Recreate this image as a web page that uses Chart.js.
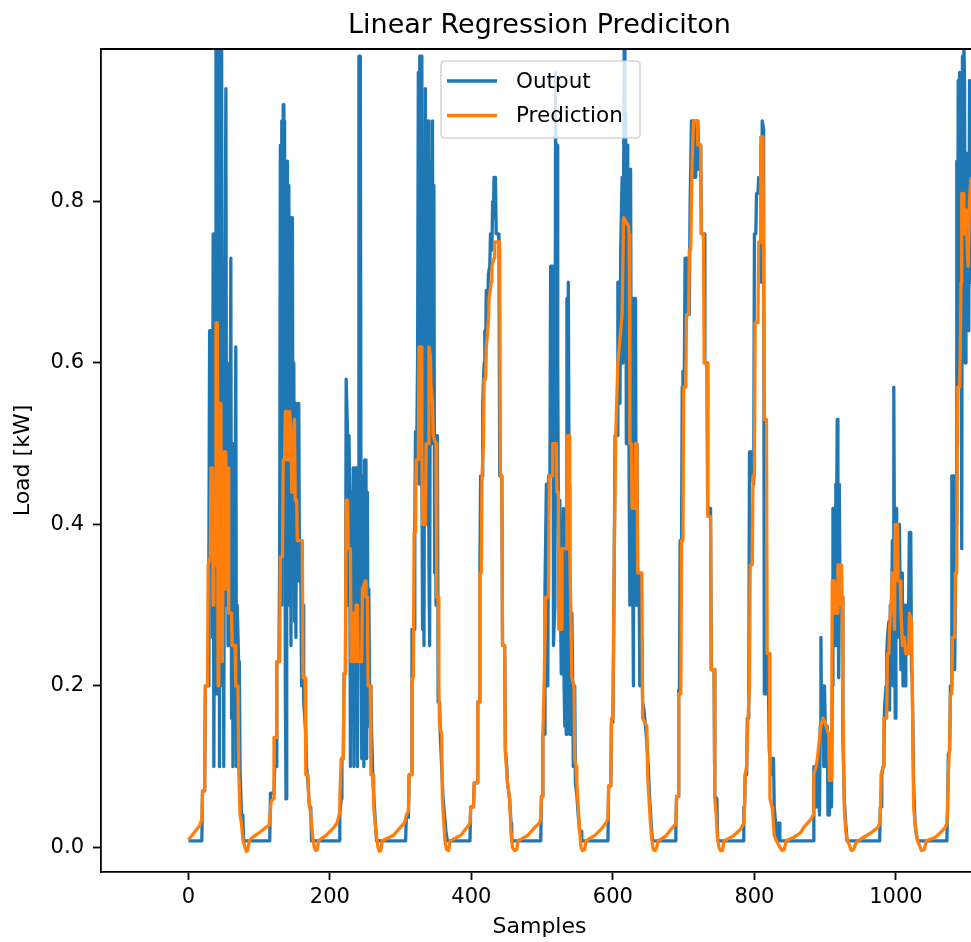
<!DOCTYPE html>
<html>
<head>
<meta charset="utf-8">
<title>Linear Regression Prediciton</title>
<script src="https://cdn.jsdelivr.net/npm/chart.js@4.4.1/dist/chart.umd.min.js"></script>
<style>
  html, body { margin: 0; padding: 0; background: #fff; overflow: hidden; }
  #wrap { width: 971px; height: 942px; overflow: hidden; }
</style>
</head>
<body>
<div id="wrap"><canvas id="loadChart" width="1080" height="942"></canvas></div>
<script>
// Measured load vs. regression prediction, one row per [sample, kW]
const outputSeries = [
  // day 0
  [0,0.008],[19,0.008],[20,0.07],[23,0.07],[24,0.2],[28,0.2],[29,0.36],[30,0.64],[33,0.64],[34,0.26],[35,0.76],[36,0.1],[38,0.76],[39,1.0],[40,0.19],[41,0.95],[42,0.35],[43,1.0],[44,0.1],[45,0.85],[46,0.4],[47,1.0],[48,0.2],[49,0.7],[50,0.1],[51,0.5],[53,0.94],[54,0.3],[55,0.6],[56,0.25],[57,0.45],[58,0.26],[60,0.73],[61,0.16],[62,0.5],[63,0.1],[64,0.35],[65,0.2],[67,0.62],[68,0.1],[69,0.3],[71,0.23],[72,0.23],[73,0.1],[75,0.04],[77,0.04],[78,0.008],
  // day 1
  [115,0.008],[116,0.067],[121,0.067],[122,0.1],[124,0.1],[125,0.23],[128,0.23],[129,0.36],[130,0.87],[131,0.3],[132,0.9],[133,0.5],[134,0.92],[135,0.4],[136,0.9],[137,0.2],[138,0.06],[139,0.7],[140,0.85],[141,0.3],[142,0.82],[143,0.45],[144,0.78],[145,0.25],[146,0.7],[147,0.78],[148,0.35],[149,0.6],[150,0.28],[151,0.55],[152,0.26],[153,0.55],[154,0.33],[156,0.55],[157,0.33],[159,0.33],[160,0.2],[162,0.3],[163,0.18],[166,0.14],[167,0.1],[169,0.08],[171,0.05],[173,0.05],[174,0.008],
  // day 2
  [213,0.008],[214,0.04],[216,0.06],[217,0.11],[219,0.11],[220,0.215],[222,0.215],[223,0.58],[224,0.58],[225,0.51],[226,0.3],[227,0.51],[228,0.44],[229,0.1],[230,0.44],[231,0.3],[232,0.18],[233,0.47],[234,0.1],[235,0.47],[236,0.2],[237,0.47],[238,0.3],[239,0.1],[240,0.3],[241,0.98],[243,0.98],[244,0.4],[245,0.11],[246,0.3],[247,0.46],[248,0.1],[249,0.48],[250,0.2],[251,0.48],[252,0.11],[253,0.44],[254,0.15],[255,0.32],[256,0.2],[258,0.2],[259,0.14],[261,0.08],[263,0.05],[265,0.02],[266,0.008],
  // day 3
  [307,0.008],[308,0.037],[311,0.037],[312,0.09],[315,0.09],[316,0.27],[319,0.27],[320,0.39],[321,0.515],[323,0.515],[324,0.61],[325,0.96],[326,0.45],[327,0.98],[328,0.6],[329,0.98],[330,0.47],[331,0.27],[332,0.55],[333,0.25],[334,0.7],[335,0.94],[336,0.4],[337,0.62],[338,0.5],[339,0.9],[340,0.35],[341,0.25],[342,0.7],[343,0.85],[344,0.5],[345,0.9],[346,0.5],[347,0.82],[348,0.34],[349,0.51],[350,0.3],[351,0.51],[352,0.51],[353,0.18],[355,0.18],[356,0.14],[358,0.1],[360,0.06],[362,0.04],[364,0.02],[366,0.008],
  // day 4
  [398,0.008],[399,0.05],[403,0.05],[404,0.08],[408,0.08],[409,0.18],[411,0.18],[412,0.34],[413,0.46],[415,0.46],[416,0.55],[418,0.6],[419,0.64],[420,0.6],[421,0.69],[423,0.66],[424,0.71],[426,0.72],[427,0.76],[429,0.74],[430,0.8],[431,0.78],[432,0.83],[433,0.8],[434,0.83],[435,0.76],[438,0.76],[439,0.75],[440,0.46],[443,0.46],[444,0.25],[447,0.25],[448,0.12],[450,0.1],[451,0.08],[454,0.06],[456,0.03],[457,0.008],
  // day 5
  [498,0.008],[499,0.063],[500,0.063],[501,0.14],[503,0.14],[504,0.32],[506,0.45],[507,0.3],[508,0.2],[509,0.46],[511,0.46],[512,0.72],[515,0.72],[516,0.25],[518,0.3],[519,0.96],[520,0.55],[521,0.87],[522,0.6],[523,0.4],[524,0.27],[525,0.43],[526,0.3],[527,0.215],[528,0.4],[529,0.28],[530,0.42],[531,0.2],[532,0.15],[533,0.35],[534,0.14],[535,0.68],[536,0.55],[537,0.7],[538,0.45],[539,0.14],[540,0.3],[541,0.14],[542,0.29],[543,0.22],[544,0.1],[546,0.2],[547,0.08],[549,0.065],[551,0.04],[553,0.02],[555,0.02],[556,0.008],
  // day 6
  [593,0.008],[594,0.076],[597,0.076],[598,0.155],[600,0.155],[601,0.25],[602,0.37],[603,0.51],[606,0.51],[607,0.7],[609,0.7],[610,0.55],[611,0.74],[613,0.83],[614,0.6],[616,1.0],[617,0.7],[618,0.91],[619,0.5],[620,0.87],[621,0.6],[622,0.84],[623,0.44],[624,0.3],[625,0.84],[626,0.5],[627,0.68],[628,0.34],[629,0.2],[630,0.68],[631,0.45],[632,0.68],[633,0.3],[634,0.5],[635,0.33],[637,0.34],[638,0.2],[640,0.26],[641,0.25],[642,0.18],[644,0.17],[646,0.15],[648,0.13],[650,0.1],[652,0.06],[654,0.03],[656,0.008],
  // day 7
  [688,0.008],[689,0.027],[690,0.063],[692,0.063],[693,0.195],[694,0.195],[695,0.38],[697,0.38],[698,0.57],[699,0.59],[701,0.59],[702,0.73],[705,0.73],[706,0.66],[708,0.66],[709,0.79],[710,0.79],[711,0.9],[714,0.9],[715,0.83],[717,0.83],[718,0.9],[719,0.84],[720,0.9],[721,0.87],[724,0.87],[725,0.76],[729,0.76],[730,0.6],[733,0.6],[734,0.42],[738,0.42],[739,0.22],[743,0.22],[744,0.063],[747,0.06],[748,0.01],[749,0.008],
  // day 8
  [784,0.008],[785,0.05],[786,0.05],[787,0.09],[789,0.09],[790,0.16],[792,0.16],[793,0.49],[796,0.49],[797,0.46],[799,0.45],[800,0.76],[802,0.76],[803,0.81],[805,0.81],[806,0.83],[808,0.83],[809,0.87],[810,0.7],[811,0.9],[813,0.89],[814,0.19],[815,0.19],[816,0.24],[819,0.24],[820,0.19],[821,0.12],[824,0.09],[825,0.11],[827,0.11],[828,0.05],[830,0.03],[832,0.008],[833,0.03],[835,0.03],[836,0.008],
  // day 9
  [883,0.008],[884,0.1],[887,0.1],[888,0.05],[889,0.1],[890,0.11],[891,0.07],[892,0.04],[893,0.15],[894,0.26],[895,0.15],[896,0.2],[897,0.2],[898,0.1],[899,0.2],[900,0.16],[901,0.16],[902,0.1],[903,0.15],[904,0.04],[905,0.13],[906,0.04],[907,0.08],[909,0.05],[910,0.2],[911,0.42],[913,0.42],[914,0.25],[915,0.45],[916,0.38],[917,0.53],[918,0.45],[919,0.21],[920,0.45],[921,0.3],[922,0.31],[924,0.31],[925,0.135],[926,0.1],[927,0.06],[929,0.03],[931,0.008],
  // day 10
  [977,0.008],[978,0.05],[979,0.05],[980,0.09],[982,0.1],[983,0.12],[984,0.175],[986,0.2],[987,0.24],[988,0.26],[990,0.28],[991,0.17],[992,0.3],[993,0.22],[994,0.3],[995,0.38],[996,0.2],[997,0.57],[998,0.35],[999,0.16],[1000,0.41],[1001,0.42],[1002,0.26],[1003,0.36],[1004,0.28],[1005,0.4],[1006,0.3],[1007,0.22],[1008,0.28],[1009,0.34],[1010,0.2],[1011,0.2],[1012,0.3],[1013,0.2],[1014,0.3],[1015,0.24],[1016,0.28],[1017,0.24],[1018,0.3],[1019,0.39],[1021,0.39],[1022,0.22],[1023,0.21],[1025,0.08],[1027,0.03],[1029,0.015],[1031,0.008],
  // day 11
  [1072,0.008],[1073,0.05],[1074,0.115],[1076,0.12],[1077,0.2],[1078,0.2],[1079,0.46],[1082,0.46],[1083,0.22],[1084,0.3],[1085,0.4],[1086,0.85],[1087,0.5],[1088,0.95],[1089,0.6],[1090,0.96],[1091,0.62],[1092,0.93],[1093,0.37],[1094,0.98],[1095,0.7],[1096,1.0],[1097,0.95],[1098,0.6],[1099,0.86],[1100,0.75],[1101,0.64],[1102,0.86],[1103,0.64],[1104,0.95],[1105,0.7],[1106,0.9]
];

const predictionSeries = [
  // day 0
  [0,0.009],[16,0.027],[19,0.035],[20,0.07],[23,0.07],[24,0.2],[27,0.2],[28,0.35],[31,0.36],[32,0.47],[34,0.47],[35,0.3],[36,0.42],[38,0.35],[39,0.65],[41,0.65],[42,0.2],[43,0.55],[45,0.55],[46,0.4],[47,0.47],[48,0.23],[50,0.49],[52,0.49],[53,0.32],[55,0.32],[56,0.47],[57,0.29],[61,0.29],[62,0.25],[66,0.25],[67,0.2],[70,0.2],[71,0.1],[73,0.04],[75,0.03],[77,0.01],[80,0.0],[82,-0.005],[84,-0.004],[86,0.008],[90,0.012],[100,0.018],[110,0.025],
  // day 1
  [114,0.027],[117,0.057],[120,0.06],[121,0.136],[124,0.136],[125,0.23],[129,0.23],[130,0.36],[133,0.36],[134,0.48],[136,0.48],[137,0.54],[139,0.54],[140,0.48],[142,0.48],[143,0.54],[145,0.52],[146,0.44],[149,0.44],[150,0.53],[151,0.43],[153,0.43],[154,0.38],[161,0.38],[162,0.21],[165,0.21],[166,0.09],[169,0.09],[170,0.063],[173,0.04],[176,0.01],[178,0.0],[180,-0.004],[182,-0.003],[184,0.008],[195,0.015],[205,0.024],[210,0.03],
  // day 2
  [213,0.04],[214,0.06],[216,0.11],[219,0.11],[220,0.215],[222,0.215],[223,0.43],[225,0.43],[226,0.37],[229,0.37],[230,0.23],[232,0.23],[233,0.29],[235,0.29],[236,0.23],[237,0.3],[239,0.3],[240,0.23],[245,0.23],[246,0.32],[250,0.33],[251,0.31],[253,0.31],[254,0.2],[257,0.2],[258,0.09],[261,0.09],[262,0.05],[265,0.02],[268,0.0],[270,-0.005],[272,-0.004],[274,0.008],[290,0.015],[300,0.025],[305,0.03],
  // day 3
  [307,0.035],[308,0.04],[311,0.045],[312,0.09],[315,0.09],[316,0.21],[318,0.21],[319,0.39],[321,0.39],[322,0.48],[325,0.48],[326,0.62],[329,0.62],[330,0.49],[331,0.4],[335,0.4],[336,0.5],[339,0.5],[340,0.62],[342,0.61],[343,0.57],[345,0.55],[346,0.51],[350,0.5],[351,0.31],[353,0.31],[354,0.2],[355,0.15],[358,0.14],[359,0.06],[361,0.03],[363,0.005],[365,-0.003],[368,-0.004],[370,0.008],[385,0.015],[395,0.026],
  // day 4
  [398,0.03],[399,0.05],[403,0.05],[404,0.08],[408,0.08],[409,0.18],[411,0.18],[412,0.34],[414,0.34],[415,0.46],[417,0.5],[418,0.58],[420,0.58],[421,0.62],[424,0.65],[425,0.68],[428,0.7],[429,0.72],[432,0.73],[433,0.75],[440,0.75],[441,0.46],[443,0.46],[444,0.25],[447,0.25],[448,0.12],[451,0.08],[454,0.06],[456,0.02],[458,0.0],[461,-0.004],[464,-0.003],[466,0.008],[480,0.015],[490,0.025],[496,0.03],
  // day 5
  [498,0.035],[499,0.063],[500,0.063],[501,0.14],[503,0.21],[505,0.31],[509,0.31],[510,0.46],[514,0.46],[515,0.5],[520,0.5],[521,0.44],[523,0.44],[524,0.27],[527,0.27],[528,0.37],[535,0.37],[536,0.51],[538,0.51],[539,0.37],[542,0.21],[545,0.2],[546,0.11],[548,0.1],[549,0.08],[551,0.05],[553,0.02],[555,0.0],[557,-0.004],[560,-0.003],[562,0.008],[575,0.015],[585,0.024],[590,0.03],
  // day 6
  [593,0.035],[594,0.076],[597,0.076],[598,0.16],[600,0.16],[601,0.27],[602,0.37],[604,0.51],[607,0.6],[609,0.62],[611,0.64],[613,0.66],[614,0.66],[615,0.78],[622,0.77],[623,0.76],[624,0.5],[626,0.5],[627,0.42],[631,0.42],[632,0.5],[634,0.5],[635,0.34],[641,0.34],[642,0.16],[648,0.15],[649,0.09],[651,0.06],[653,0.03],[655,0.01],[657,-0.003],[660,-0.004],[662,0.0],[664,0.008],[675,0.014],[680,0.02],
  // day 7
  [685,0.025],[688,0.028],[689,0.03],[690,0.063],[692,0.063],[693,0.19],[696,0.19],[697,0.38],[699,0.38],[700,0.57],[703,0.57],[704,0.66],[707,0.66],[708,0.74],[710,0.74],[711,0.8],[712,0.85],[714,0.9],[719,0.9],[720,0.87],[724,0.87],[725,0.76],[728,0.76],[729,0.6],[733,0.6],[734,0.41],[738,0.41],[739,0.22],[743,0.22],[744,0.06],[746,0.04],[748,0.01],[750,0.0],[752,-0.004],[755,-0.004],[757,0.008],[770,0.014],[780,0.022],[785,0.03],
  // day 8
  [786,0.05],[787,0.09],[789,0.1],[790,0.14],[792,0.18],[793,0.2],[794,0.35],[797,0.35],[798,0.46],[800,0.46],[801,0.65],[805,0.65],[806,0.75],[808,0.75],[809,0.88],[812,0.88],[813,0.7],[814,0.53],[817,0.53],[818,0.24],[821,0.24],[822,0.06],[825,0.05],[826,0.04],[828,0.015],[830,0.01],[833,0.005],[836,0.0],[839,-0.004],[842,-0.003],[845,0.008],[855,0.012],[865,0.018],[870,0.025],
  // day 9
  [880,0.035],[883,0.04],[884,0.09],[887,0.1],[889,0.11],[892,0.135],[894,0.15],[897,0.16],[900,0.155],[903,0.145],[905,0.14],[906,0.083],[909,0.083],[910,0.33],[913,0.33],[914,0.29],[917,0.29],[918,0.35],[920,0.3],[921,0.35],[923,0.35],[924,0.31],[925,0.18],[927,0.05],[929,0.02],[931,0.01],[934,0.003],[937,-0.004],[940,-0.003],[944,0.006],[950,0.01],[965,0.018],[975,0.025],
  // day 10
  [977,0.03],[978,0.04],[979,0.09],[982,0.1],[983,0.16],[987,0.16],[988,0.24],[990,0.24],[991,0.27],[993,0.3],[995,0.34],[997,0.3],[998,0.27],[999,0.4],[1002,0.4],[1003,0.33],[1006,0.33],[1007,0.3],[1009,0.25],[1012,0.26],[1014,0.24],[1018,0.24],[1019,0.29],[1022,0.28],[1023,0.21],[1025,0.05],[1027,0.03],[1030,0.01],[1033,0.003],[1036,-0.004],[1040,-0.003],[1043,0.008],[1055,0.012],[1065,0.02],[1070,0.025],
  // day 11
  [1072,0.03],[1073,0.045],[1074,0.09],[1076,0.13],[1077,0.19],[1079,0.19],[1080,0.26],[1083,0.26],[1084,0.34],[1086,0.34],[1087,0.57],[1090,0.57],[1091,0.62],[1092,0.7],[1093,0.81],[1095,0.81],[1096,0.76],[1098,0.76],[1099,0.79],[1101,0.74],[1102,0.72],[1104,0.8],[1106,0.83]
];

const xTicks = [0, 200, 400, 600, 800, 1000];
const yTicks = [0, 0.2, 0.4, 0.6, 0.8];
const seriesLabels = ['Output', 'Prediction'];
const seriesColors = ['#1f77b4', '#ff7f0e'];

const FONT = 'DejaVu Sans';
const LINE_W = 3.3;

const toXY = pts => pts.map(p => ({ x: p[0], y: p[1] }));

// top spine + boxed legend, drawn over the lines like matplotlib does
const frameAndLegend = {
    id: 'frameAndLegend',
    afterDatasetsDraw(chart) {
        const { ctx, chartArea } = chart;
        ctx.save();
        ctx.strokeStyle = '#000';
        ctx.lineWidth = 1.8;
        ctx.beginPath();
        ctx.moveTo(chartArea.left, chartArea.top);
        ctx.lineTo(chartArea.right, chartArea.top);
        ctx.stroke();

        // legend box
        const bx = 441, by = 61, bw = 199, bh = 77, r = 4;
        ctx.beginPath();
        ctx.moveTo(bx + r, by);
        ctx.lineTo(bx + bw - r, by);
        ctx.quadraticCurveTo(bx + bw, by, bx + bw, by + r);
        ctx.lineTo(bx + bw, by + bh - r);
        ctx.quadraticCurveTo(bx + bw, by + bh, bx + bw - r, by + bh);
        ctx.lineTo(bx + r, by + bh);
        ctx.quadraticCurveTo(bx, by + bh, bx, by + bh - r);
        ctx.lineTo(bx, by + r);
        ctx.quadraticCurveTo(bx, by, bx + r, by);
        ctx.closePath();
        ctx.fillStyle = 'rgba(255,255,255,0.8)';
        ctx.fill();
        ctx.strokeStyle = 'rgba(204,204,204,0.8)';
        ctx.lineWidth = 1.5;
        ctx.stroke();

        ctx.font = '21.5px "' + FONT + '"';
        ctx.textBaseline = 'middle';
        ctx.fillStyle = '#000';
        seriesLabels.forEach((lbl, i) => {
            const y = 81 + i * 34.5;
            ctx.strokeStyle = seriesColors[i];
            ctx.lineWidth = LINE_W;
            ctx.beginPath();
            ctx.moveTo(447, y);
            ctx.lineTo(497, y);
            ctx.stroke();
            ctx.fillText(lbl, 516, y + 1);
        });
        ctx.restore();
    }
};

const ctx = document.getElementById('loadChart');

new Chart(ctx, {
    type: 'line',
    data: {
        datasets: [
            {
                label: seriesLabels[0],
                data: toXY(outputSeries),
                borderColor: seriesColors[0],
                borderWidth: LINE_W,
                borderJoinStyle: 'round',
                pointRadius: 0,
                tension: 0,
                order: 2
            },
            {
                label: seriesLabels[1],
                data: toXY(predictionSeries),
                borderColor: seriesColors[1],
                borderWidth: LINE_W,
                borderJoinStyle: 'round',
                pointRadius: 0,
                tension: 0,
                order: 1
            }
        ]
    },
    options: {
        responsive: false,
        animation: false,
        events: [],
        layout: { padding: { left: 0, right: 102, top: 0, bottom: 0 } },
        scales: {
            x: {
                type: 'linear',
                min: -123.5,
                max: 1116,
                afterBuildTicks: s => { s.ticks = xTicks.map(v => ({ value: v })); },
                afterFit: s => { s.height = 70; },
                ticks: {
                    color: '#000',
                    font: { family: FONT, size: 21 },
                    padding: 5,
                    maxRotation: 0,
                    autoSkip: false,
                    callback: v => String(v)
                },
                grid: { drawOnChartArea: false, tickLength: 8, tickWidth: 1.8, tickColor: '#000' },
                border: { color: '#000', width: 1.8 },
                title: {
                    display: true, text: 'Samples', color: '#000',
                    font: { family: FONT, size: 22 },
                    padding: { top: 0, bottom: 2 }
                }
            },
            y: {
                type: 'linear',
                min: -0.0306,
                max: 0.989,
                afterBuildTicks: s => { s.ticks = yTicks.map(v => ({ value: v })); },
                afterFit: s => { s.width = 101; },
                ticks: {
                    color: '#000',
                    font: { family: FONT, size: 21 },
                    padding: 9,
                    autoSkip: false,
                    callback: v => Number(v).toFixed(1)
                },
                grid: { drawOnChartArea: false, tickLength: 8, tickWidth: 1.8, tickColor: '#000' },
                border: { color: '#000', width: 1.8 },
                title: {
                    display: true, text: 'Load [kW]', color: '#000',
                    font: { family: FONT, size: 22 },
                    padding: { top: 10, bottom: 0 }
                }
            }
        },
        plugins: {
            legend: { display: false },
            tooltip: { enabled: false },
            title: {
                display: true,
                fullSize: false,
                text: 'Linear Regression Prediciton',
                color: '#000',
                font: { family: FONT, size: 27, weight: 'normal' },
                padding: { top: 10, bottom: 6.6 }
            }
        }
    },
    plugins: [frameAndLegend]
});
</script>
</body>
</html>
